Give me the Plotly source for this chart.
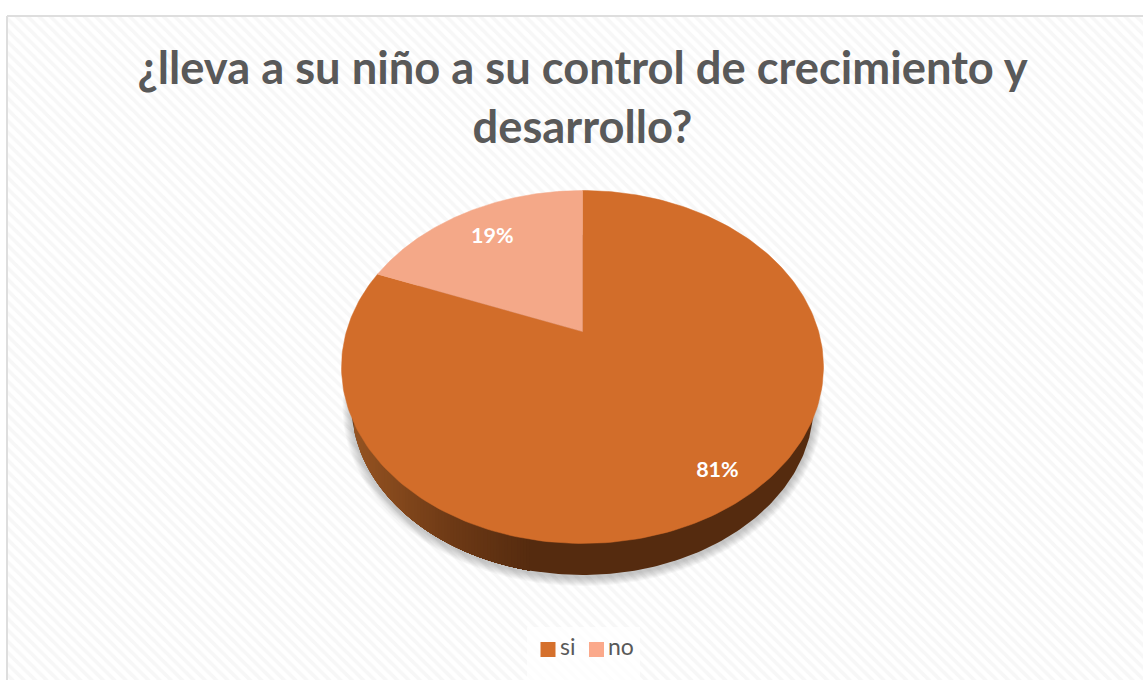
import numpy as np
import plotly.graph_objects as go

# --- data ---
categories = ["si", "no"]
values = [81, 19]
title_text = "¿lleva a su niño a su control de crecimiento y<br>desarrollo?"

# --- styles ---
slice_colors = ["#D26D2A", "#F4A888"]
legend_colors = ["#D5702C", "#FBA98B"]
label_fraction = [0.84, 0.785]
rim_stops_x = [350, 450, 530, 816]
rim_stops_rgb = [(150, 84, 34), (110, 58, 22), (85, 43, 15), (85, 43, 15)]

W, H = 1143, 680
CX, CY, A, B = 582.5, 367.0, 241.0, 176.5      # top face ellipse
AX, AY, K = 582.5, 331.5, 0.707                # apex and foreshortening
RCY, RA, RB = 405.0, 231.0, 170.0              # lower rim ellipse


def ray_hit(theta):
    """Where a ray from the apex, theta clockwise from top, meets the top ellipse."""
    dx, dy = np.sin(theta), -K * np.cos(theta)
    ox, oy = AX - CX, AY - CY
    a = (dx / A) ** 2 + (dy / B) ** 2
    b = 2 * (ox * dx / A**2 + oy * dy / B**2)
    c = (ox / A) ** 2 + (oy / B) ** 2 - 1
    return (-b + np.sqrt(b * b - 4 * a * c)) / (2 * a), dx, dy


def wedge(t0, t1):
    ts = np.linspace(t0, t1, 240)
    xs, ys = [AX], [AY]
    for th in ts:
        t, dx, dy = ray_hit(th)
        xs.append(AX + t * dx)
        ys.append(AY + t * dy)
    xs.append(AX)
    ys.append(AY)
    return xs, ys


fig = go.Figure()

# chart area with border and diagonal hatch
fig.add_trace(go.Scatter(
    x=[7, W + 3, W + 3, 7, 7], y=[16, 16, H + 3, H + 3, 16], mode="lines", fill="toself",
    line=dict(color="#DEDEDE", width=2), fillcolor="#FFFFFF",
    fillpattern=dict(shape="\\", fgcolor="#EFEFEF", bgcolor="#FFFFFF", size=8, solidity=0.45),
    hoverinfo="skip", showlegend=False))

# soft shadow below the disc
phi = np.linspace(0, 2 * np.pi, 361)
for grow in range(9, 0, -1):
    fig.add_trace(go.Scatter(
        x=CX + (RA + grow) * np.cos(phi), y=RCY + 2 + (RB + grow) * np.sin(phi),
        mode="lines", fill="toself", line=dict(width=0), fillcolor="rgba(90,90,90,0.045)",
        hoverinfo="skip", showlegend=False))

# rim: the full lower ellipse in the dark shade, then lighter strips on the left,
# each one reaching the stop and overdrawn by the next, so no seams appear
fig.add_trace(go.Scatter(
    x=CX + RA * np.cos(phi), y=RCY + RB * np.sin(phi), mode="lines", fill="toself",
    line=dict(width=0), fillcolor="rgb(85,43,15)", hoverinfo="skip", showlegend=False))
edges = np.arange(CX - RA, rim_stops_x[2], 3.0)
for x0 in edges:
    xs = np.linspace(x0, rim_stops_x[2], 60)
    ys = RCY + RB * np.sqrt(np.clip(1 - ((xs - CX) / RA) ** 2, 0, 1))
    rgb = [np.interp(x0, rim_stops_x, [c[i] for c in rim_stops_rgb]) for i in range(3)]
    col = "rgb(%d,%d,%d)" % tuple(rgb)
    fig.add_trace(go.Scatter(
        x=[x0, *xs, rim_stops_x[2], x0], y=[CY, *ys, CY, CY], mode="lines", fill="toself",
        line=dict(width=0), fillcolor=col, hoverinfo="skip", showlegend=False))

# top face slices, clockwise from 12 o'clock
total = sum(values)
start = 0.0
mids = []
for name, v, col in zip(categories, values, slice_colors):
    sweep = 2 * np.pi * v / total
    xs, ys = wedge(start, start + sweep)
    fig.add_trace(go.Scatter(
        x=xs, y=ys, mode="lines", fill="toself", name=name,
        line=dict(color=col, width=0.5), fillcolor=col, hoverinfo="skip", showlegend=False))
    mids.append(start + sweep / 2)
    start += sweep

# data labels
lx, ly = [], []
for th, frac in zip(mids, label_fraction):
    t, dx, dy = ray_hit(th)
    lx.append(AX + frac * t * dx)
    ly.append(AY + frac * t * dy)
fig.add_trace(go.Scatter(
    x=lx, y=ly, mode="text", text=[f"{v}%" for v in values],
    textfont=dict(family="Lato", size=21.5, color="#FFFFFF", weight="bold"),
    hoverinfo="skip", showlegend=False))

# legend panel and entries
fig.add_trace(go.Scatter(
    x=[527, 640, 640, 527, 527], y=[627, 627, 680, 680, 627], mode="lines", fill="toself",
    line=dict(width=0), fillcolor="rgba(255,255,255,0.75)", hoverinfo="skip", showlegend=False))
fig.add_trace(go.Scatter(
    x=[548, 596.5], y=[649.5, 649.5], mode="markers",
    marker=dict(symbol="square", size=15, color=legend_colors),
    hoverinfo="skip", showlegend=False))
fig.add_trace(go.Scatter(
    x=[560, 608], y=[649.5, 649.5], mode="text", text=categories,
    textposition="middle right",
    textfont=dict(family="Lato", size=23, color="#595959"),
    hoverinfo="skip", showlegend=False))

fig.update_layout(
    width=W, height=H, margin=dict(l=0, r=0, t=0, b=0),
    paper_bgcolor="#FFFFFF", plot_bgcolor="rgba(0,0,0,0)", showlegend=False,
    title=dict(text=title_text, x=582.5 / W, xanchor="center", y=1 - 84 / H, yanchor="top",
               font=dict(family="Lato", size=45.3, color="#595959", weight="bold")),
    xaxis=dict(range=[0, W], visible=False, fixedrange=True),
    yaxis=dict(range=[H, 0], visible=False, fixedrange=True),
)

fig.write_html("out.html", config={"displayModeBar": False},
               post_script="document.body.style.margin='0';")
